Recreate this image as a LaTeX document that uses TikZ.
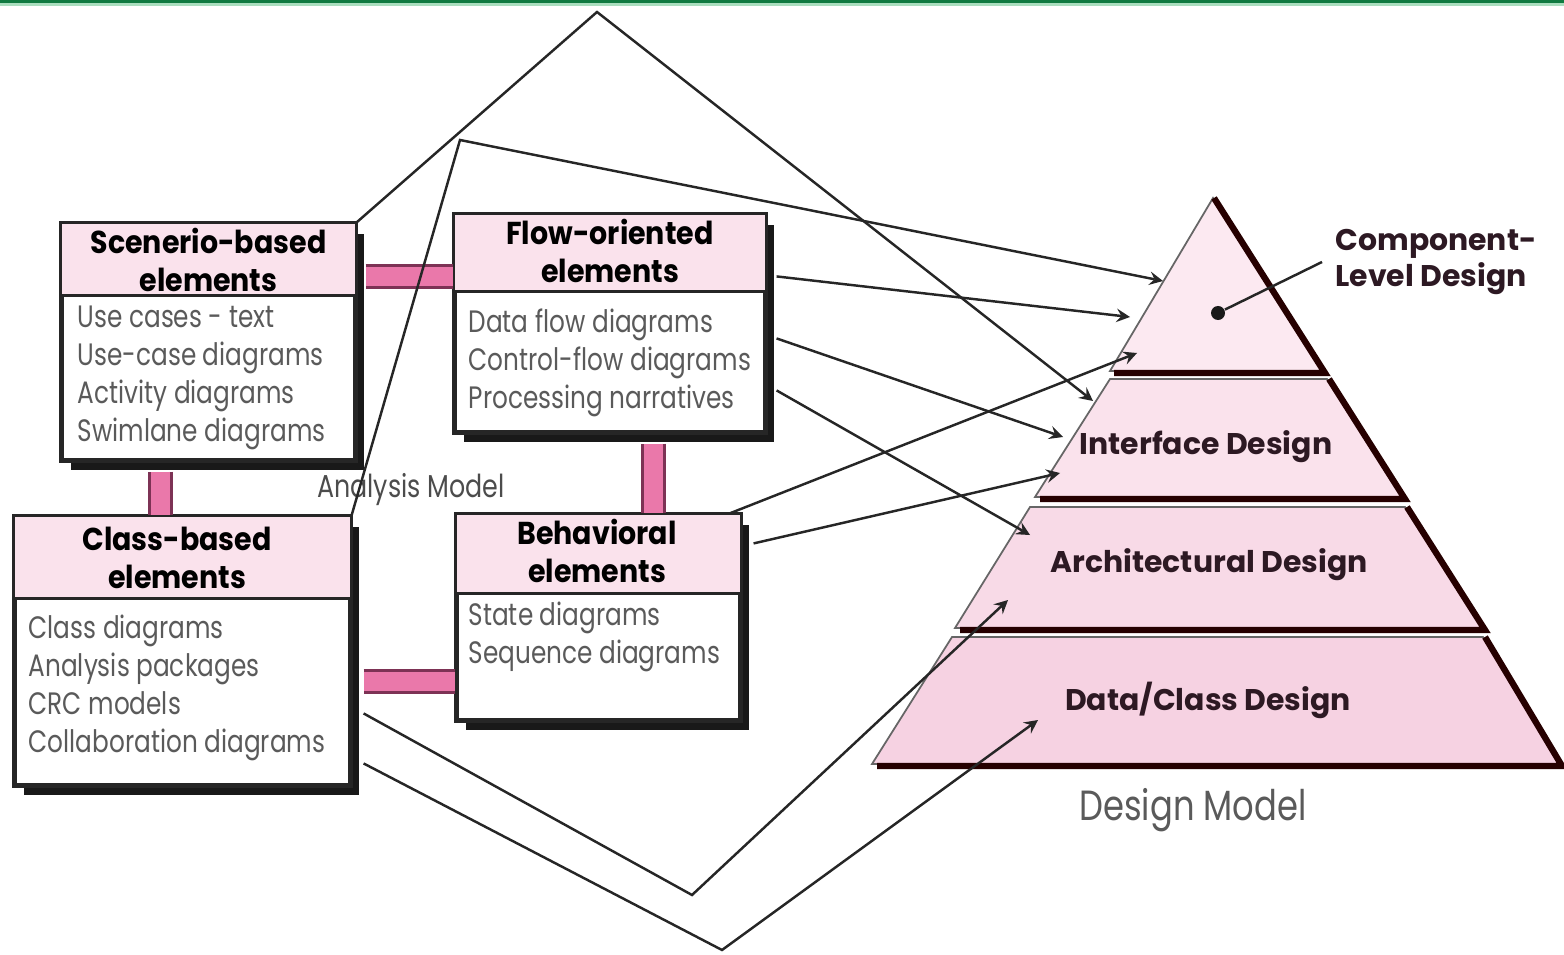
\documentclass[tikz,border=0pt]{standalone}
\usepackage{fontspec}
\setmainfont{Poppins}
\newfontfamily\narrowfont[FakeStretch=0.8]{Poppins}
\newfontfamily\headfont[FakeStretch=0.9]{Poppins}
\usetikzlibrary{shadows}
\usetikzlibrary{positioning}
\usetikzlibrary{arrows,shapes}
\usetikzlibrary{calc}
\definecolor{hdrpink}{RGB}{250,226,236}
\definecolor{barpink}{RGB}{234,120,170}
\definecolor{bardark}{RGB}{125,50,85}
\definecolor{tierA}{RGB}{252,233,241}
\definecolor{tierB}{RGB}{250,226,236}
\definecolor{tierC}{RGB}{248,218,231}
\definecolor{tierD}{RGB}{246,210,226}
\definecolor{itemgray}{RGB}{90,90,90}
\definecolor{tiertext}{RGB}{45,25,35}
\definecolor{topgreen}{RGB}{16,122,64}
\definecolor{lightgreen}{RGB}{170,222,190}
\tikzstyle{elembox}=[rectangle,draw=black!85,line width=0.9pt,fill=white,inner sep=0pt,drop shadow={shadow xshift=0.09cm,shadow yshift=-0.1cm,fill=black!90,opacity=1}]
\tikzstyle{hdr}=[font=\headfont\bfseries\fontsize{9}{10.8}\selectfont,align=center,inner sep=0pt]
\tikzstyle{items}=[font=\narrowfont\fontsize{8.8}{10.8}\selectfont,align=left,anchor=north west,inner sep=0pt,text=itemgray]
\tikzstyle{bar}=[draw=bardark,double=barpink,double distance=5.5pt,line width=0.8pt]
\tikzstyle{link}=[draw,line width=0.7pt,black!85,-stealth]
\tikzstyle{outline}=[draw,line width=0.7pt,black!85]
\tikzstyle{tier}=[draw=black!60,line width=0.5pt]
\tikzstyle{tiershadow}=[draw=black!85!red,line width=1.8pt]
\tikzstyle{tierlabel}=[font=\bfseries\fontsize{8.5}{10.5}\selectfont,text=tiertext,inner sep=0pt]
\begin{document}
\begin{tikzpicture}[x=0.01cm,y=-0.01cm]
   \useasboundingbox (0,0) rectangle (1564,955);
   \fill[topgreen] (0,0) rectangle (1564,3);
   \fill[lightgreen] (0,3) rectangle (1564,6.5);

   % design pyramid
   \filldraw[tier,fill=tierA] (1213,198) -- (1110,371) -- (1322,371) -- cycle;
   \draw[tiershadow] (1214,198) -- (1325,373) -- (1114,373);
   \filldraw[tier,fill=tierB] (1110,379) -- (1035,497) -- (1402,497) -- (1327,379) -- cycle;
   \draw[tiershadow] (1329,379) -- (1405,499) -- (1040,499);
   \filldraw[tier,fill=tierC] (1030,507) -- (955,628) -- (1482,628) -- (1405,507) -- cycle;
   \draw[tiershadow] (1407,507) -- (1485,630) -- (960,630);
   \filldraw[tier,fill=tierD] (952,637) -- (872,764) -- (1560,764) -- (1483,637) -- cycle;
   \draw[tiershadow] (1485,637) -- (1562,766) -- (877,766);

   % analysis elements
   \foreach \name/\bx/\by/\w/\h/\hh in {scen/62/224/293/236/73, flow/455/215/310/217/78, cls/15/517/335/268/83, beh/457/515/283/205/80}
   {
      \node[elembox,minimum width=\w*0.01cm,minimum height=\h*0.01cm] (\name) at (\bx+\w/2,\by+\h/2) {};
      \fill[hdrpink] (\name.north west) rectangle ($(\name.north east)+(0,\hh)$);
      \draw[line width=0.9pt,black!85] ($(\name.north west)+(0,\hh)$) -- ($(\name.north east)+(0,\hh)$);
      \draw[line width=0.9pt,black!85] (\name.north west) rectangle (\name.south east);
   }

   \node[hdr] (scenhdr) at (208.5,260) {Scenerio-based\\elements};
   \node[hdr] (flowhdr) at (610,251) {Flow-oriented\\elements};
   \node[hdr] (clshdr) at (177,558) {Class-based\\elements};
   \node[hdr] (behhdr) at (597,551) {Behavioral\\elements};

   \node[items] (scenlist) at (77,305) {Use cases - text\\Use-case diagrams\\Activity diagrams\\Swimlane diagrams};
   \node[items] (flowlist) at (468,308) {Data flow diagrams\\Control-flow diagrams\\Processing narratives};
   \node[items] (clslist) at (28,614) {Class diagrams\\Analysis packages\\CRC models\\Collaboration diagrams};
   \node[items] (behlist) at (468,601) {State diagrams\\Sequence diagrams};

   % pink links between the elements
   \path[bar] ($(scen.north east)+(9,54)$) -- ($(flow.north west)+(0,63)$);
   \path[bar] ($(scen.south west)+(100,10)$) -- ($(cls.north west)+(147,0)$);
   \path[bar] ($(flow.south west)+(200,10)$) -- ($(beh.north west)+(198,0)$);
   \path[bar] ($(cls.north east)+(12,166)$) -- ($(beh.north west)+(0,168)$);

   \node[font=\narrowfont\fontsize{9}{11}\selectfont,text=black!70] (amodel) at (411,490) {Analysis Model};

   % arrow ends on the pyramid
   \coordinate (topA) at (597,12);
   \coordinate (topB) at (460,140);
   \coordinate (botA) at (692,895);
   \coordinate (botB) at (722,950);
   \foreach \name/\px/\py in {c1/1163/281, c2/1130/317, c3/1137/353, i1/1093/401, i2/1063/437, i3/1060/473, a1/1030/535, a2/1008/600, d1/1038/720}
      \coordinate (\name) at (\px,\py);

   \path[link] (scen.north east) -- (topA) -- (i1);
   \path[link] (cls.north east) -- (topB) -- (c1);
   \path[link] ($(cls.north east)+(12,198)$) -- (botA) -- (a2);
   \path[link] ($(cls.north east)+(12,248)$) -- (botB) -- (d1);
   \foreach \dy/\dest in {63/c2, 125/i2, 177/a1}
      \path[link] ($(flow.north east)+(10,\dy)$) -- (\dest);
   \path[link] ($(beh.north east)+(-12,0)$) -- (c3);
   \path[link] ($(beh.north east)+(12,30)$) -- (i3);

   % pyramid labels
   \node[circle,fill=black!90,minimum size=0.14cm,inner sep=0pt] (cdot) at (1218,313) {};
   \coordinate (cleader) at (1322,262);
   \draw[outline] (cdot) -- (cleader);
   \node[tierlabel,align=left] (comp) at (1436,262) {Component-\\Level Design};
   \node[tierlabel] (intf) at (1206,447) {Interface Design};
   \node[tierlabel] (arch) at (1209,565) {Architectural Design};
   \node[tierlabel] (data) at (1208,700) {Data/Class Design};
   \node[font=\narrowfont\fontsize{12}{14}\selectfont,text=itemgray] (dmodel) at (1193,810) {Design Model};
\end{tikzpicture}
\end{document}
